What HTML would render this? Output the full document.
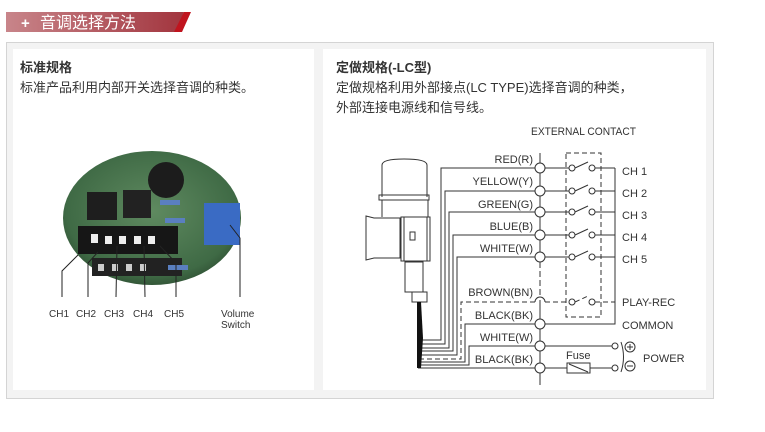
<!DOCTYPE html>
<html><head><meta charset="utf-8"><style>
body{margin:0;background:#fff;width:765px;height:427px;overflow:hidden;font-family:"Liberation Sans","Noto Sans CJK SC",sans-serif}
svg text{font-family:"Liberation Sans","Noto Sans CJK SC",sans-serif}
</style></head><body>
<svg width="765" height="427" xmlns="http://www.w3.org/2000/svg">
<defs>
<linearGradient id="hg" x1="0" x2="1"><stop offset="0" stop-color="#c8858a"/><stop offset="1" stop-color="#a2353e"/></linearGradient>
<radialGradient id="pcb" cx="0.5" cy="0.45" r="0.6"><stop offset="0" stop-color="#5f8a60"/><stop offset="0.8" stop-color="#3f6a45"/><stop offset="1" stop-color="#2c4a30"/></radialGradient>
</defs>
<!-- header -->
<polygon points="6,12 184,12 176,32 6,32" fill="url(#hg)"/>
<polygon points="184,12 191,12 182,32 174,32" fill="#c0141e"/>
<text x="21" y="28" fill="#fff" font-size="15" font-weight="bold">+</text>
<text x="40" y="28" fill="#fff" font-size="16">音调选择方法</text>
<!-- outer box -->
<rect x="6.5" y="42.5" width="707" height="356" fill="#f3f3f3" stroke="#d4d4d4"/>
<rect x="13" y="49" width="301" height="341" fill="#fff"/>
<rect x="323" y="49" width="383" height="341" fill="#fff"/>
<!-- left text -->
<text x="20" y="72" font-size="13" font-weight="bold" fill="#333">标准规格</text>
<text x="20" y="92" font-size="13" fill="#333">标准产品利用内部开关选择音调的种类。</text>
<!-- photo -->
<ellipse cx="152" cy="218" rx="89" ry="67" fill="url(#pcb)"/>
<ellipse cx="166" cy="180" rx="18" ry="18" fill="#1c1c1c"/>
<rect x="87" y="192" width="30" height="28" fill="#1e1e1e"/>
<rect x="123" y="190" width="28" height="28" fill="#222"/>
<rect x="204" y="203" width="36" height="42" fill="#3a6bc4"/>
<rect x="78" y="226" width="100" height="28" fill="#161616"/>
<g fill="#eee"><rect x="91" y="234" width="7" height="9"/><rect x="105" y="236" width="7" height="8"/><rect x="119" y="236" width="7" height="8"/><rect x="134" y="236" width="7" height="8"/><rect x="148" y="236" width="7" height="8"/></g>
<rect x="92" y="258" width="90" height="18" fill="#222"/>
<g fill="#ccc"><rect x="98" y="264" width="6" height="7"/><rect x="112" y="264" width="6" height="7"/><rect x="126" y="264" width="6" height="7"/><rect x="140" y="264" width="6" height="7"/></g>
<rect x="160" y="200" width="20" height="5" fill="#5a7fc0"/><rect x="165" y="218" width="20" height="5" fill="#5a7fc0"/><rect x="168" y="265" width="20" height="5" fill="#5a7fc0"/>
<g stroke="#222" fill="none" stroke-width="1">
<polyline points="78,255 62,271 62,297"/><polyline points="98,252 88,263 88,297"/><polyline points="117,246 116,297"/><polyline points="144,246 145,297"/><polyline points="160,246 176,263 176,297"/><polyline points="230,225 240,238 240,297"/>
</g>
<g font-size="10" fill="#333"><text x="49" y="317">CH1</text><text x="76" y="317">CH2</text><text x="104" y="317">CH3</text><text x="133" y="317">CH4</text><text x="164" y="317">CH5</text><text x="221" y="317">Volume</text><text x="221" y="328">Switch</text></g>
<!-- right text -->
<text x="336" y="72" font-size="13" font-weight="bold" fill="#333">定做规格(-LC型)</text>
<text x="336" y="92" font-size="13" fill="#333">定做规格利用外部接点(LC TYPE)选择音调的种类，</text>
<text x="336" y="112" font-size="13" fill="#333">外部连接电源线和信号线。</text>
<!-- diagram -->
<g font-size="11" fill="#333" font-family="Liberation Sans Narrow,Liberation Sans,sans-serif">
<text x="531" y="135" font-size="11" textLength="105" lengthAdjust="spacingAndGlyphs">EXTERNAL CONTACT</text>
<g text-anchor="end">
<text x="533" y="163">RED(R)</text><text x="533" y="185">YELLOW(Y)</text><text x="533" y="208">GREEN(G)</text><text x="533" y="230">BLUE(B)</text><text x="533" y="252">WHITE(W)</text><text x="533" y="296">BROWN(BN)</text><text x="533" y="319">BLACK(BK)</text><text x="533" y="341">WHITE(W)</text><text x="533" y="363">BLACK(BK)</text>
</g>
<text x="622" y="175">CH 1</text><text x="622" y="197">CH 2</text><text x="622" y="219">CH 3</text><text x="622" y="241">CH 4</text><text x="622" y="263">CH 5</text>
<text x="622" y="306">PLAY-REC</text><text x="622" y="329">COMMON</text><text x="643" y="362">POWER</text><text x="566" y="359">Fuse</text>
</g>
<g stroke="#333" fill="none" stroke-width="1">
<!-- device -->
<path d="M382,197 V165 Q382,159 404,159 Q427,159 427,165 V197"/>
<rect x="379" y="195" width="50" height="5"/>
<path d="M382,200 V217 M428,200 V217"/>
<path d="M366,216 L374,218 H400 V258 H374 L366,260 Z"/>
<rect x="401" y="217" width="29" height="44"/><rect x="404" y="217" width="23" height="44"/>
<rect x="410" y="232" width="5" height="8"/>
<rect x="405" y="262" width="18" height="30"/><rect x="412" y="292" width="15" height="10"/>
<!-- wires -->
<path d="M535,168 H441 V340 H422"/>
<path d="M535,191 H445 V344 H421"/>
<path d="M535,212 H449 V348 H420"/>
<path d="M535,235 H453 V351 H419"/>
<path d="M535,257 H457 V355 H419"/>
<path d="M535,302 H461 V359 H418" stroke-dasharray="5,3"/>
<path d="M535,324 H465 V362 H418"/>
<path d="M535,346 H469 V365 H418"/>
<path d="M535,368 H418"/>
<!-- terminal line -->
<path d="M540,153 V385" />
<path d="M540,262 V300" stroke="#fff" stroke-width="2"/>
<path d="M540,262 V298" stroke-dasharray="6,3"/>
<g fill="#fff"><circle cx="540" cy="168" r="5"/><circle cx="540" cy="191" r="5"/><circle cx="540" cy="212" r="5"/><circle cx="540" cy="235" r="5"/><circle cx="540" cy="257" r="5"/><circle cx="540" cy="324" r="5"/><circle cx="540" cy="346" r="5"/><circle cx="540" cy="368" r="5"/></g>
<path d="M535,302 A5,5 0 0 1 545,302"/>
<!-- switches -->
<path d="M545,168 H569 M575,168 L588,162 M595,168 H615"/>
<path d="M545,191 H569 M575,191 L588,185 M595,191 H615"/>
<path d="M545,212 H569 M575,212 L588,206 M595,212 H615"/>
<path d="M545,235 H569 M575,235 L588,229 M595,235 H615"/>
<path d="M545,257 H569 M575,257 L588,251 M595,257 H615"/>
<path d="M545,302 H569 M575,302 L588,296 M595,302 H615" stroke-dasharray="5,3"/>
<g fill="#fff"><circle cx="572" cy="168" r="3"/><circle cx="592" cy="168" r="3"/><circle cx="572" cy="191" r="3"/><circle cx="592" cy="191" r="3"/><circle cx="572" cy="212" r="3"/><circle cx="592" cy="212" r="3"/><circle cx="572" cy="235" r="3"/><circle cx="592" cy="235" r="3"/><circle cx="572" cy="257" r="3"/><circle cx="592" cy="257" r="3"/><circle cx="572" cy="302" r="3"/><circle cx="592" cy="302" r="3"/></g>
<rect x="566" y="153" width="35" height="164" stroke-dasharray="5,3"/>
<path d="M615,168 V324 H545"/>
<!-- power -->
<path d="M545,346 H612 M545,368 H567 M590,368 H612"/>
<rect x="567" y="363" width="23" height="10" fill="#fff"/><path d="M569,364 L588,372"/>
<circle cx="615" cy="346" r="3" fill="#fff"/><circle cx="615" cy="368" r="3" fill="#fff"/>
<path d="M621,342 Q626,357 621,372"/>
<circle cx="630" cy="347" r="5"/><circle cx="630" cy="366" r="5"/>
<path d="M627,347 H633 M630,344 V350 M627,366 H633"/>
</g>
<path d="M417,302 H421 L423,338 L421,368 H417 Z" fill="#111"/>
</svg>
</body></html>
